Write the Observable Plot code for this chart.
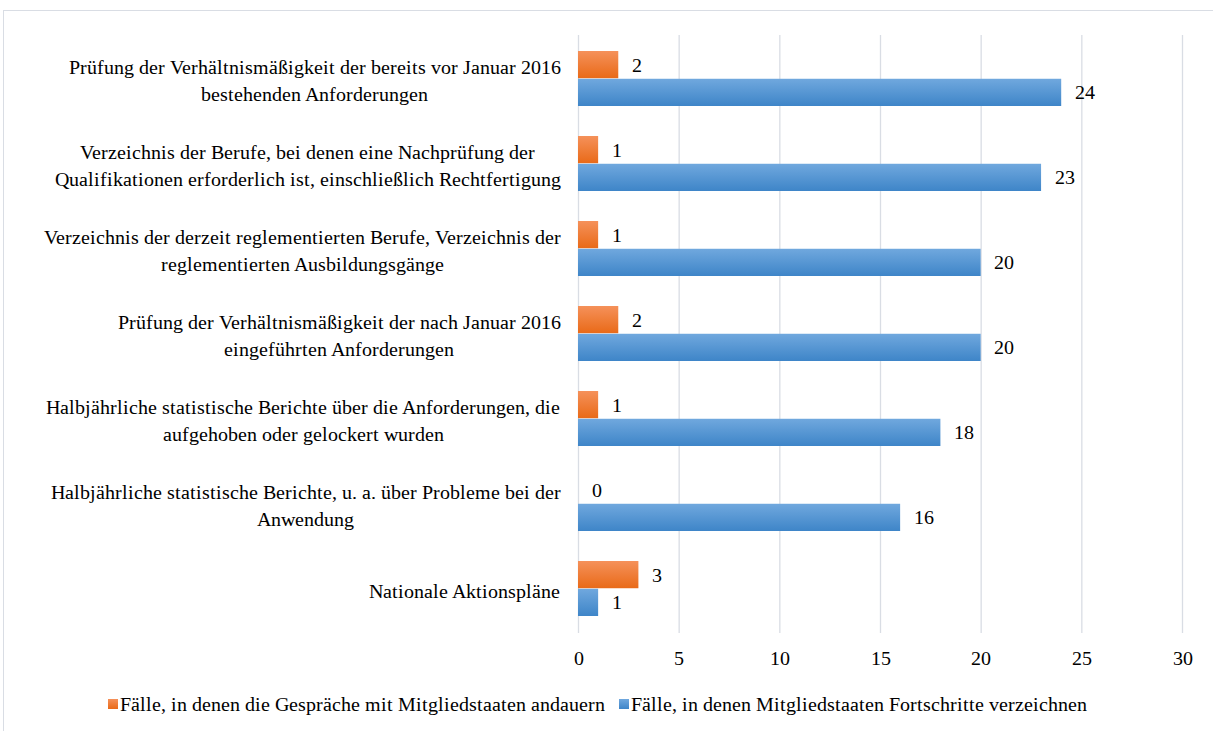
<!DOCTYPE html>
<html>
<head>
<meta charset="utf-8">
<script src="https://cdn.jsdelivr.net/npm/d3@7"></script>
<script src="https://cdn.jsdelivr.net/npm/@observablehq/plot@0.6"></script>
<style>
  @font-face { font-family: "RefSerif"; src: local("Liberation Serif"), local("LiberationSerif"), local("LiberationSerif-Regular"), local("Times New Roman"); }
  html, body { margin: 0; padding: 0; background: #fff; }
  body { width: 1213px; height: 731px; position: relative; overflow: hidden; }
  .serif { font-family: RefSerif, 'Liberation Serif', 'Times New Roman', serif; }
  #frame { position: absolute; left: 3px; top: 10px; width: 1220px; height: 730px; border: 1px solid #d9dde4; box-sizing: border-box; }
  #chart { position: absolute; left: 0; top: 0; }
  #legend { position: absolute; left: 108px; top: 693px; height: 22px; line-height: 22px; display: flex; align-items: center; color: #000; white-space: nowrap; }
  .sw { width: 10px; height: 10px; display: inline-block; margin-right: 2px; }
  .item { display: flex; align-items: center; margin-right: 14px; }
</style>
</head>
<body class="serif">
<div id="frame"></div>
<div id="chart" class="serif"></div>
<div id="legend" class="serif"></div>
<script>
const categories = [
  "Prüfung der Verhältnismäßigkeit der bereits vor Januar 2016\nbestehenden Anforderungen",
  "Verzeichnis der Berufe, bei denen eine Nachprüfung der\nQualifikationen erforderlich ist, einschließlich Rechtfertigung",
  "Verzeichnis der derzeit reglementierten Berufe, Verzeichnis der\nreglementierten Ausbildungsgänge",
  "Prüfung der Verhältnismäßigkeit der nach Januar 2016\neingeführten Anforderungen",
  "Halbjährliche statistische Berichte über die Anforderungen, die\naufgehoben oder gelockert wurden",
  "Halbjährliche statistische Berichte, u. a. über Probleme bei der\nAnwendung",
  "Nationale Aktionspläne"
];
const ongoing = [2, 1, 1, 2, 1, 0, 3];
const progress = [24, 23, 20, 20, 18, 16, 1];
const seriesNames = [
  "Fälle, in denen die Gespräche mit Mitgliedstaaten andauern",
  "Fälle, in denen Mitgliedstaaten Fortschritte verzeichnen"
];
const xTicks = [0, 5, 10, 15, 20, 25, 30];

const FONT = "RefSerif, 'Liberation Serif', 'Times New Roman', serif";
const W = 1213, H = 680, mt = 35, mb = 47, ml = 578, mr = 31;
const pInner = 0.35, pOuter = 0.175;
const step = (H - mt - mb) / (categories.length - pInner + 2 * pOuter);
const bw = step * (1 - pInner);

const rowsA = categories.map((c, i) => ({cat: c, v: ongoing[i]}));
const rowsB = categories.map((c, i) => ({cat: c, v: progress[i]}));

function render() {
  const ctx = document.createElement("canvas").getContext("2d");
  ctx.font = "100px " + FONT;
  // font size fitted so the first label line spans its width in the reference (≈510px)
  let fs = 100 * 510 / ctx.measureText(categories[0].split("\n")[0]).width;
  fs = Math.max(16, Math.min(20, fs));
  ctx.font = fs + "px " + FONT;

  const labelMarks = categories.map(c => {
    const maxW = d3.max(c.split("\n"), l => ctx.measureText(l).width);
    return Plot.text([c], {
      y: d => d, frameAnchor: "left", text: d => d,
      textAnchor: "middle", lineAnchor: "middle", lineHeight: 1.33,
      dx: -18 - maxW / 2, fill: "#000", fontSize: fs, fontFamily: FONT
    });
  });

  const svg = Plot.plot({
    width: W, height: H,
    marginTop: mt, marginBottom: mb, marginLeft: ml, marginRight: mr,
    style: {fontFamily: FONT, fontSize: fs + "px", color: "#000", background: "transparent"},
    x: {domain: [0, 30], ticks: xTicks, tickSize: 0, tickPadding: 17, label: null},
    y: {domain: categories, paddingInner: pInner, paddingOuter: pOuter, axis: null},
    marks: [
      Plot.ruleX(xTicks, {stroke: "#d9dde4", strokeWidth: 1.3}),
      Plot.barX(rowsA, {x: "v", y: "cat", fill: "url(#gOrange)", insetBottom: bw / 2}),
      Plot.barX(rowsB, {x: "v", y: "cat", fill: "url(#gBlue)", insetTop: bw / 2}),
      Plot.text(rowsA, {x: "v", y: "cat", text: d => String(d.v), dy: -bw / 4, dx: 13, textAnchor: "start", fill: "#000", fontSize: fs, fontFamily: FONT}),
      Plot.text(rowsB, {x: "v", y: "cat", text: d => String(d.v), dy: bw / 4, dx: 13, textAnchor: "start", fill: "#000", fontSize: fs, fontFamily: FONT}),
      ...labelMarks
    ]
  });

  const defs = d3.select(svg).insert("defs", ":first-child");
  const grads = [["gOrange", "#F5915A", "#E96A18"], ["gBlue", "#70A8DE", "#3E85C8"]];
  for (const [id, top, bot] of grads) {
    const g = defs.append("linearGradient").attr("id", id).attr("x1", 0).attr("y1", 0).attr("x2", 0).attr("y2", 1);
    g.append("stop").attr("offset", "0%").attr("stop-color", top);
    g.append("stop").attr("offset", "100%").attr("stop-color", bot);
  }
  const chart = document.getElementById("chart");
  chart.innerHTML = "";
  chart.appendChild(svg);

  const legend = document.getElementById("legend");
  legend.innerHTML = "";
  legend.style.fontSize = fs + "px";
  const swatch = ["linear-gradient(#F5915A,#E96A18)", "linear-gradient(#70A8DE,#3E85C8)"];
  seriesNames.forEach((name, i) => {
    const it = document.createElement("div");
    it.className = "item";
    const s = document.createElement("span");
    s.className = "sw";
    s.style.background = swatch[i];
    const t = document.createElement("span");
    t.textContent = name;
    t.style.fontFamily = FONT;
    it.appendChild(s); it.appendChild(t);
    legend.appendChild(it);
  });
}

render();
if (document.fonts && document.fonts.load) {
  Promise.all([document.fonts.load("19px RefSerif"), document.fonts.load("19px 'Liberation Serif'")]).then(render).catch(() => {});
}
</script>
</body>
</html>
